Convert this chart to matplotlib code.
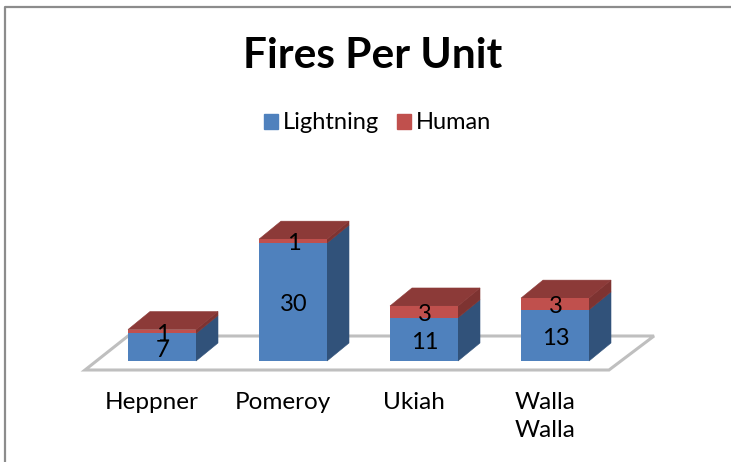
import matplotlib
matplotlib.use("Agg")
import matplotlib.pyplot as plt
from matplotlib.patches import Polygon, Patch
from matplotlib.lines import Line2D

plt.rcParams['font.family'] = ['Lato', 'DejaVu Sans']

units = ["Heppner", "Pomeroy", "Ukiah", "Walla\nWalla"]
lightning = [7, 30, 11, 13]
human = [1, 1, 3, 3]

blue = "#4F81BD"
blue_side = "#31527A"
red = "#C0504D"
red_top = "#8C3A38"
red_side = "#7E3331"
floor_color = "#BFBFBF"

W, H = 731, 462
# one category = 131 px, one fire = 3.93 px
px_x = 131.0
px_y = 3.93
bar_w = 68 / px_x
dx = 22 / px_x
dy = 18 / px_y


def box(ax, x, bottom, height, side, top=None):
    left = x - bar_w / 2
    right = x + bar_w / 2
    t = bottom + height
    ax.add_patch(Polygon([(right, bottom), (right + dx, bottom + dy), (right + dx, t + dy), (right, t)],
                         fc=side, ec=side, lw=0.4, zorder=3))
    if top is not None:
        ax.add_patch(Polygon([(left, t), (left + dx, t + dy), (right + dx, t + dy), (right, t)],
                             fc=top, ec=top, lw=0.4, zorder=3))


fig = plt.figure(figsize=(W / 100, H / 100), dpi=100)
# axes runs from the front edge of the floor up to the top of the picture
ax = fig.add_axes([0, (H - 370) / H, 1, 370 / H])
x0 = 162
base = 361
ax.set_xlim(-x0 / px_x, (W - x0) / px_x)
ax.set_ylim(-(370 - base) / px_y, base / px_y)
ax.patch.set_visible(False)
for s in ax.spines.values():
    s.set_visible(False)

xs = list(range(len(units)))

# floor
fl = -77 / px_x
fr = 447 / px_x
fb = -9 / px_y
ft = 25 / px_y
ax.add_patch(Polygon([(fl, fb), (fr, fb), (fr + 45 / px_x, ft), (fl + 43 / px_x, ft)], closed=True,
                     fc="white", ec=floor_color, lw=2.2, zorder=1, clip_on=False))

for x, a, b in zip(xs, lightning, human):
    box(ax, x, 0, a, blue_side)
    box(ax, x, a, b, red_side, red_top)

c1 = ax.bar(xs, lightning, bar_w, color=blue, zorder=4)
c2 = ax.bar(xs, human, bar_w, bottom=lightning, color=red, zorder=4)
for c in (c1, c2):
    lab = ax.bar_label(c, label_type="center", fontsize=17, color="black", zorder=6)
    for t in lab:
        t.set_zorder(6)
        t.xyann = (0.7, -2.0)  # original labels sit slightly low

# tick labels sit a little left of the bars in the original
ax.set_xticks([x - 10 / px_x for x in xs])
ax.set_xticklabels(units, fontsize=17.5, linespacing=1.42)
ax.tick_params(axis="x", length=0, pad=16)
ax.set_yticks([])

fig.text(373 / W, 1 - 56 / H, "Fires Per Unit", ha="center", va="center",
         fontsize=30.5, fontweight="bold", color="black")

handles = [Patch(color=blue, label="Lightning"), Patch(color=red, label="Human")]
fig.legend(handles=handles, loc="center", bbox_to_anchor=(377.5 / W, 1 - 123 / H), ncol=2, frameon=False,
           fontsize=17, handlelength=0.62, handleheight=0.62, handletextpad=0.2, columnspacing=0.75)

# outer frame, only top and left show
fig.add_artist(Line2D([5 / W, 5 / W, 1], [0, 1 - 7 / H, 1 - 7 / H], color="#8C8C8C", lw=1.6))

fig.savefig("out.png", dpi=100)
